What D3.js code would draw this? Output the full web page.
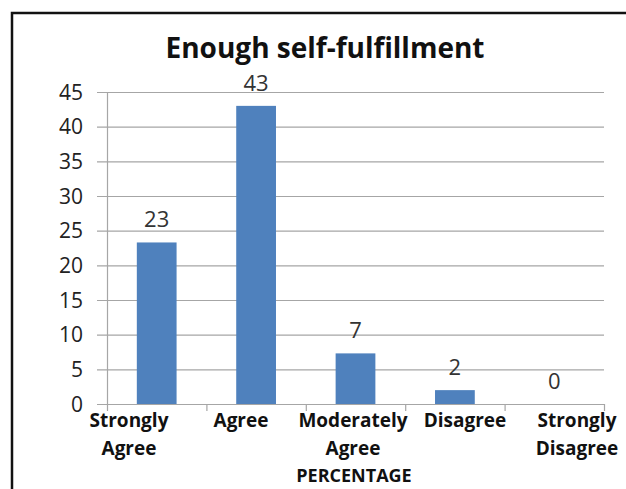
<!DOCTYPE html>
<html>
<head>
<meta charset="utf-8">
<script src="https://cdn.jsdelivr.net/npm/d3@7"></script>
<style>
  body { margin: 0; background: #fff; }
  text { font-family: "Open Sans", Lato, sans-serif; }
</style>
</head>
<body>
<div id="chart"></div>
<script>
var categories = ["Strongly Agree", "Agree", "Moderately Agree", "Disagree", "Strongly Disagree"];
var values = [23.3, 43, 7.3, 2, 0];
var yTicks = [0, 5, 10, 15, 20, 25, 30, 35, 40, 45];

function init() {
    var w = 626;
    var h = 489;
    var left = 107, right = 604, top = 92, bottom = 404;

    var svg = d3.select("#chart")
                .append("svg")
                .attr("width", w)
                .attr("height", h);

    // outer frame (cut by picture edge on right and bottom)
    svg.append("path")
       .attr("d", "M12," + h + "V13H" + w)
       .attr("fill", "none")
       .attr("stroke", "#111")
       .attr("stroke-width", 2.5);

    svg.append("text")
       .attr("x", 325)
       .attr("y", 58)
       .attr("text-anchor", "middle")
       .attr("font-size", 28)
       .attr("font-weight", "bold")
       .attr("fill", "#111")
       .text("Enough self-fulfillment");

    var x = d3.scaleBand()
              .domain(categories)
              .range([left, right])
              .paddingInner(0.6)
              .paddingOuter(0.3);

    // category labels are spread a bit wider than the bars
    var xl = d3.scaleBand()
               .domain(categories)
               .range([73, 633]);

    var y = d3.scaleLinear()
              .domain([0, 45])
              .range([bottom, top]);

    // gridlines
    svg.append("g")
       .selectAll("line")
       .data(yTicks)
       .enter()
       .append("line")
       .attr("x1", left - 10)
       .attr("x2", right)
       .attr("y1", function(d) { return y(d) + 0.5; })
       .attr("y2", function(d) { return y(d) + 0.5; })
       .attr("stroke", "#a6a6a6")
       .attr("stroke-width", 1.2);

    svg.append("g")
       .selectAll("text")
       .data(yTicks)
       .enter()
       .append("text")
       .attr("x", 83)
       .attr("y", function(d) { return y(d); })
       .attr("dy", "0.36em")
       .attr("text-anchor", "end")
       .attr("font-size", 21)
       .attr("fill", "#222")
       .text(function(d) { return d; });

    // y axis line
    svg.append("line")
       .attr("x1", left + 0.5).attr("x2", left + 0.5)
       .attr("y1", top).attr("y2", bottom)
       .attr("stroke", "#a6a6a6")
       .attr("stroke-width", 1.2);

    // x category ticks
    var step = x.step();
    var bounds = categories.map(function(c) { return x(c) - step * 0.3; });
    bounds.push(right);
    svg.append("g")
       .selectAll("line")
       .data(bounds)
       .enter()
       .append("line")
       .attr("x1", function(d) { return d + 0.5; })
       .attr("x2", function(d) { return d + 0.5; })
       .attr("y1", bottom)
       .attr("y2", bottom + 7)
       .attr("stroke", "#a6a6a6")
       .attr("stroke-width", 1.2);

    svg.append("g")
       .selectAll("rect")
       .data(values)
       .enter()
       .append("rect")
       .attr("x", function(d, i) { return x(categories[i]); })
       .attr("width", x.bandwidth())
       .attr("y", function(d) { return y(d); })
       .attr("height", function(d) { return bottom - y(d); })
       .attr("fill", "#4f81bd");

    svg.append("g")
       .selectAll("text")
       .data(values)
       .enter()
       .append("text")
       .attr("x", function(d, i) { return x(categories[i]) + x.bandwidth() / 2; })
       .attr("y", function(d) { return y(d) - 15; })
       .attr("text-anchor", "middle")
       .attr("font-size", 22)
       .attr("fill", "#333")
       .text(function(d) { return d3.format(".0f")(d); });

    var labels = svg.append("g")
       .selectAll("text")
       .data(categories)
       .enter()
       .append("text")
       .attr("x", function(d) { return xl(d) + xl.bandwidth() / 2; })
       .attr("y", 427)
       .attr("text-anchor", "middle")
       .attr("font-size", 19)
       .attr("font-weight", "bold")
       .attr("fill", "#111");

    labels.each(function(d) {
        var words = d.split(" ");
        var t = d3.select(this);
        words.forEach(function(wd, k) {
            t.append("tspan")
             .attr("x", t.attr("x"))
             .attr("dy", k === 0 ? 0 : 28)
             .text(wd);
        });
    });

    svg.append("text")
       .attr("x", 354)
       .attr("y", 482)
       .attr("text-anchor", "middle")
       .attr("font-size", 18)
       .attr("font-weight", "bold")
       .attr("fill", "#111")
       .text("PERCENTAGE");
}
window.onload = init;
</script>
</body>
</html>
